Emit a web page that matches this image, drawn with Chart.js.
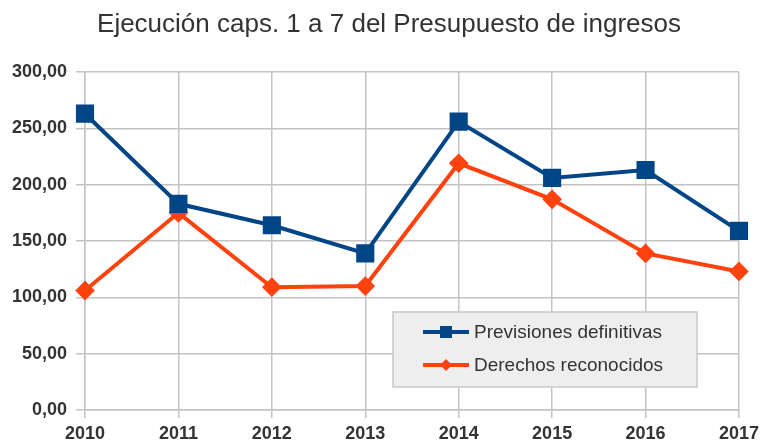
<!DOCTYPE html>
<html>
<head>
<meta charset="utf-8">
<script src="https://cdn.jsdelivr.net/npm/chart.js@4"></script>
<style>
  html, body { margin: 0; padding: 0; background: #fff; }
  #wrap { width: 764px; height: 442px; }
</style>
</head>
<body>
<div id="wrap"><canvas id="chart"></canvas></div>
<script>
"use strict";

// Chart data
const years       = ["2010", "2011", "2012", "2013", "2014", "2015", "2016", "2017"];
const previsiones = [263, 183, 164, 139, 256, 206, 213, 159];
const derechos    = [106, 175, 109, 110, 219, 187, 139, 123];
const seriesNames = ["Previsiones definitivas", "Derechos reconocidos"];
const titleText   = "Ejecución caps. 1 a 7 del Presupuesto de ingresos";

// LibreOffice-ish palette
const C = {
  blue:   "#004586",
  orange: "#ff420e",
  grid:   "#c3c3c3",
  text:   "#333333",
  legendBg: "#eeeeee",
};

const FONT = "'Liberation Sans', Arial, sans-serif";

/**
 * Title drawn by hand: the original centres it a little right of the
 * plot area, which the built-in title plugin can't do.
 */
const offsetTitle = {
  id: "offsetTitle",
  afterDraw(chart) {
    const { ctx } = chart;
    ctx.save();
    ctx.fillStyle = C.text;
    ctx.font = `26px ${FONT}`;
    ctx.textAlign = "center";
    ctx.textBaseline = "alphabetic";
    ctx.fillText(titleText, 389, 32);
    ctx.restore();
  },
};

/**
 * Legend box drawn inside the plot area (lower right), like the original.
 */
const insideLegend = {
  id: "insideLegend",
  afterDraw(chart) {
    const { ctx } = chart;
    const x0 = 393, y0 = 312, w = 304, h = 75;

    ctx.save();
    ctx.fillStyle = C.legendBg;
    ctx.strokeStyle = "#c8c8c8";
    ctx.lineWidth = 1.5;
    ctx.fillRect(x0, y0, w, h);
    ctx.strokeRect(x0, y0, w, h);

    chart.data.datasets.forEach((ds, i) => {
      const y = y0 + 20 + i * 33;
      ctx.strokeStyle = ds.borderColor;
      ctx.lineWidth = 4;
      ctx.beginPath();
      ctx.moveTo(x0 + 30, y);
      ctx.lineTo(x0 + 76, y);
      ctx.stroke();

      ctx.fillStyle = ds.borderColor;
      if (ds.pointStyle === "rect") {
        ctx.fillRect(x0 + 53 - 6, y - 6, 12, 12);
      } else {
        ctx.beginPath();
        ctx.moveTo(x0 + 53, y - 6);
        ctx.lineTo(x0 + 59, y);
        ctx.lineTo(x0 + 53, y + 6);
        ctx.lineTo(x0 + 47, y);
        ctx.closePath();
        ctx.fill();
      }

      ctx.fillStyle = C.text;
      ctx.font = `19px ${FONT}`;
      ctx.textAlign = "left";
      ctx.textBaseline = "middle";
      ctx.fillText(ds.label, x0 + 81, y + 1);
    });
    ctx.restore();
  },
};

new Chart(document.getElementById("chart"), {
  type: "line",
  data: {
    labels: years,
    datasets: [
      {
        label: seriesNames[0],
        data: previsiones,
        borderColor: C.blue,
        backgroundColor: C.blue,
        borderWidth: 4,
        pointStyle: "rect",
        pointRadius: 10,
        pointHoverRadius: 10,
        tension: 0,
      },
      {
        label: seriesNames[1],
        data: derechos,
        borderColor: C.orange,
        backgroundColor: C.orange,
        borderWidth: 4,
        pointStyle: "rectRot",
        pointRadius: 7,
        pointHoverRadius: 7,
        tension: 0,
      },
    ],
  },
  options: {
    responsive: true,
    maintainAspectRatio: false,
    animation: false,
    layout: { padding: { left: 0, right: 23, top: 72, bottom: 0 } },
    plugins: {
      legend: { display: false },
      tooltip: { enabled: false },
      title: { display: false },
    },
    scales: {
      x: {
        offset: false,
        grid: { color: C.grid, lineWidth: 1.5, tickLength: 8, tickColor: C.grid },
        border: { color: C.grid, width: 1.5 },
        ticks: {
          color: C.text,
          font: { family: FONT, size: 18, weight: "bold" },
          padding: 5,
          maxRotation: 0,
          autoSkip: false,
        },
        afterFit(scale) { scale.height = 32; },
      },
      y: {
        min: 0,
        max: 300,
        grid: { color: C.grid, lineWidth: 1.5, tickLength: 9, tickColor: C.grid },
        border: { color: C.grid, width: 1.5 },
        ticks: {
          stepSize: 50,
          color: C.text,
          font: { family: FONT, size: 18, weight: "bold" },
          padding: 9,
          callback: (v) => v.toFixed(2).replace(".", ","),
        },
        afterFit(scale) { scale.width = 85; },
      },
    },
  },
  plugins: [offsetTitle, insideLegend],
});
</script>
</body>
</html>
